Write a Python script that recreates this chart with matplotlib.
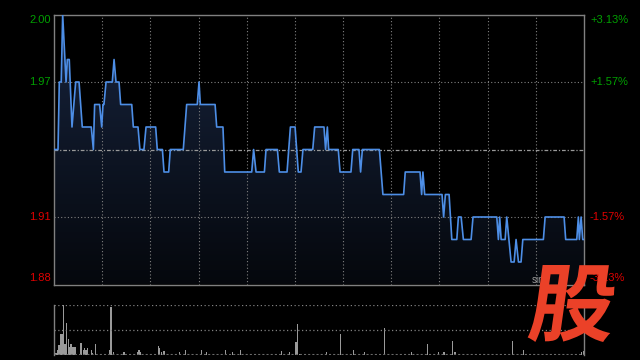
import numpy as np
import matplotlib
matplotlib.use("Agg")
import matplotlib.pyplot as plt
from matplotlib.textpath import TextPath
from matplotlib.font_manager import FontProperties
from matplotlib.patches import PathPatch
from matplotlib.transforms import Affine2D

# intraday price, (minute from open, price) vertices
minutes = [0, 2.5, 3.3, 4.5, 5.4, 7.5, 8.3, 9.5, 11.2, 13.5, 15.6, 17.6, 23.2, 24.5, 25.3,
           28.4, 29.7, 30.5, 31.1, 32.4, 36.3, 37.4, 38.6, 40.5, 41.5, 48.4, 49.4, 52.3,
           53.5, 56, 57.3, 63.3, 64.3, 67.5, 68.5, 71.4, 72.4, 80.5, 82.6, 89.2, 90.3,
           91.1, 100.3, 101.3, 105.2, 106.3, 123.1, 124.3, 125.8, 131, 132, 139.1, 140.3,
           145.1, 147.2, 150.1, 152.1, 153.8, 155, 161.1, 162.3, 168.1, 169.1, 170.2, 171,
           177, 178.1, 184.9, 186, 189.9, 190.9, 192, 202.6, 204.8, 217.7, 218.7, 227.9,
           228.9, 229.7, 230.8, 241.6, 242.6, 243.7, 246, 247.7, 250.8, 251.8, 253.5,
           254.9, 259.7, 260.9, 275.7, 276.7, 277.5, 278.4, 280.9, 281.9, 284.6, 286.5,
           287.7, 289.2, 290.8, 291.9, 304.7, 305.8, 317.6, 318.6, 325.5, 326.5, 327.1,
           328.2, 329.2, 330]
prices = [1.94, 1.94, 1.97, 1.97, 2.00, 1.97, 1.98, 1.98, 1.95, 1.97, 1.97, 1.95, 1.95, 1.94, 1.96,
          1.96, 1.95, 1.96, 1.96, 1.97, 1.97, 1.98, 1.97, 1.97, 1.96, 1.96, 1.95, 1.95,
          1.94, 1.94, 1.95, 1.95, 1.94, 1.94, 1.93, 1.93, 1.94, 1.94, 1.96, 1.96, 1.97,
          1.96, 1.96, 1.95, 1.95, 1.93, 1.93, 1.94, 1.93, 1.93, 1.94, 1.94, 1.93,
          1.93, 1.95, 1.95, 1.93, 1.93, 1.94, 1.94, 1.95, 1.95, 1.94, 1.95, 1.94,
          1.94, 1.93, 1.93, 1.94, 1.94, 1.93, 1.94, 1.94, 1.92, 1.92, 1.93, 1.93,
          1.92, 1.93, 1.92, 1.92, 1.91, 1.92, 1.92, 1.90, 1.90, 1.91, 1.91,
          1.90, 1.90, 1.91, 1.91, 1.90, 1.91, 1.90, 1.90, 1.91, 1.89, 1.89,
          1.90, 1.89, 1.89, 1.90, 1.90, 1.91, 1.91, 1.90, 1.90, 1.91, 1.90,
          1.91, 1.90, 1.90]

# volume bars (minute, relative volume)
vol_min = [1.2, 2.1, 3.1, 3.9, 5.0, 5.8, 6.8, 7.9, 8.9, 9.8, 10.6, 11.6, 12.5, 13.3, 16.8,
           18.3, 18.9, 19.9, 20.8, 23.2, 24.1, 25.7, 34.9, 35.5, 36.9, 43.6, 51.9, 52.9,
           53.5, 64.9, 65.6, 66.8, 68.1, 68.7, 78, 81.8, 91.7, 94.8, 106.7, 111, 116,
           141.8, 146.5, 150.7, 151.5, 152.7, 169.8, 178.5, 186.4, 193.2, 205.7, 213.3,
           222.7, 232.4, 239.3, 242.8, 248.2, 249.7, 285.4, 292.2, 328.5, 329.6]
vol_val = [5, 10, 20, 42, 42, 100, 22, 65, 33, 17, 22, 17, 17, 17, 25,
           10, 15, 10, 15, 11, 5, 22, 11, 97, 6, 6, 6, 10,
           6, 18, 15, 6, 9, 9, 6, 10, 10, 6, 10, 6, 10,
           9, 6, 26, 62, 3, 6, 43, 11, 6, 55, 3,
           6, 23, 6, 6, 28, 6, 28, 11, 6, 8]

prev_close = 1.94
left_labels = ["2.00", "1.97", "1.91", "1.88"]
right_labels = ["+3.13%", "+1.57%", "-1.57%", "-3.13%"]
label_colors = ["#00a000", "#00a000", "#e00000", "#e00000"]

W, H = 640, 360
fig = plt.figure(figsize=(6.4, 3.6), dpi=100, facecolor="black")
plt.rcParams['font.family'] = ['Liberation Sans', 'DejaVu Sans']

ax = fig.add_axes([54 / W, (H - 284.5) / H, 530 / W, 270 / H])
ax.set_facecolor("black")
ax.set_xlim(0, 330)
ax.set_ylim(1.88, 2.00)

# gradient fill under the line
grad = np.linspace(0, 1, 256).reshape(-1, 1)
top_c = np.array([0.09, 0.14, 0.24])
bot_c = np.array([0.02, 0.03, 0.05])
img = top_c * (1 - grad[..., None]) + bot_c * grad[..., None]
img = np.repeat(img, 2, axis=1)
im = ax.imshow(img, extent=[0, 330, 1.88, 2.00], aspect="auto", origin="upper", zorder=1)
poly = ax.fill_between(minutes, prices, 1.88, color="none", lw=0)
im.set_clip_path(poly.get_paths()[0], transform=ax.transData)

ax.plot(minutes, prices, color="#4d8ee6", lw=1.2, zorder=3)

for x in range(30, 330, 30):
    ax.axvline(x, color="#808080", lw=0.8, ls=(0, (1, 2)), zorder=2)
for y in [1.97, 1.91]:
    ax.axhline(y, color="#808080", lw=0.8, ls=(0, (1, 2)), zorder=2)
ax.axhline(prev_close, color="#999999", lw=0.9, ls=(0, (3, 1.5, 1, 1.5)), zorder=2)

ax.set_xticks([])
ax.set_yticks([])
for s in ax.spines.values():
    s.set_color("#808080")
    s.set_linewidth(1)

# price and percent labels
ypos = [20, 82, 217, 278]
for lab, rl, c, yp in zip(left_labels, right_labels, label_colors, ypos):
    fig.text(51 / W, (H - yp) / H, lab, color=c, fontsize=8, ha="right", va="center")
    fig.text(590 / W, (H - yp) / H, rl, color=c, fontsize=8, ha="left", va="center")

# volume panel
vax = fig.add_axes([54 / W, 5 / H, 530 / W, 50 / H])
vax.set_facecolor("black")
vax.set_xlim(0, 330)
vax.set_ylim(0, 100)
vax.bar(vol_min, vol_val, width=0.75, color="#9a9a9a", lw=0)
vax.axhline(100, color="#808080", lw=0.9, ls=(0, (1, 2)))
vax.axhline(50, color="#808080", lw=0.9, ls=(0, (1, 2)))
vax.axhline(1, color="#6a6a6a", lw=1.5, ls=(0, (1, 1)))
vax.set_xticks([])
vax.set_yticks([])
for k, s in vax.spines.items():
    if k in ("left", "right"):
        s.set_color("#808080")
        s.set_linewidth(1)
    else:
        s.set_visible(False)

# watermark
fig.text(532 / W, (H - 280) / H, "sina", color="#9a9a9a", fontsize=7, ha="left", va="center")
fp = FontProperties(family="Noto Sans CJK SC", weight="black")
tp = TextPath((0, 0), "股", size=1, prop=fp)
ext = tp.get_extents()
gw, gh = 82, 77
tr = (Affine2D().translate(-ext.x0, -ext.y0)
      .scale(gw / ext.width, gh / ext.height)
      .skew_deg(8, 0)
      .translate(527, H - 342)
      .scale(1 / W, 1 / H) + fig.transFigure)
fig.patches.append(PathPatch(tp, transform=tr, facecolor="#eb4128", edgecolor="none", zorder=10))

fig.savefig("out.png", dpi=100, facecolor="black")
